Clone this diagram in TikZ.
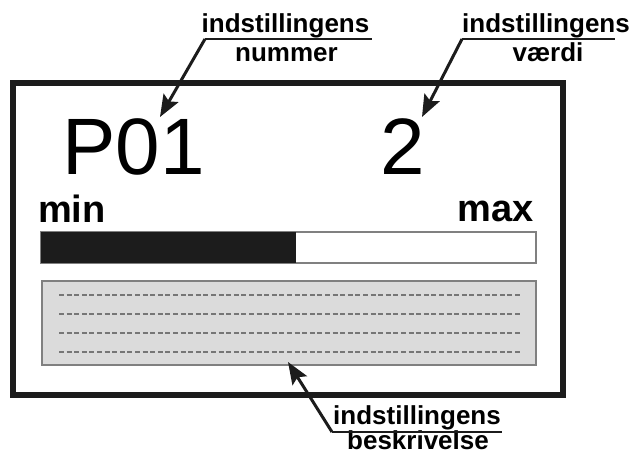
\documentclass[tikz,border=0pt]{standalone}
\usepackage{fontspec}
\setmainfont{Liberation Sans}
\usetikzlibrary{arrows.meta}
\definecolor{panelgray}{RGB}{219,219,219}
\definecolor{edgegray}{RGB}{128,128,128}
\definecolor{dashgray}{RGB}{118,118,118}
\definecolor{barink}{RGB}{28,28,28}

\begin{document}
\begin{tikzpicture}[x=1pt, y=-1pt,
    lbl/.style={font=\fontsize{26}{30}\selectfont\bfseries, inner sep=0pt, anchor=base},
    big/.style={font=\fontsize{80}{90}\selectfont, inner sep=0pt, anchor=base west},
    scaletext/.style={font=\fontsize{38}{44}\selectfont\bfseries, inner sep=0pt},
    frame/.style={draw=barink, line width=6.5pt, minimum width=550pt, minimum height=312pt, inner sep=0pt},
    bar/.style={draw=edgegray, line width=1.2pt, fill=white, minimum width=495pt, minimum height=31pt, inner sep=0pt},
    level/.style={fill=barink, minimum width=255pt, minimum height=31pt, inner sep=0pt, anchor=west},
    panel/.style={draw=edgegray, line width=1.2pt, fill=panelgray, minimum width=494pt, minimum height=84pt, inner sep=0pt},
    rule/.style={dashgray, line width=1.3pt, dash pattern=on 5pt off 2.6pt},
    uline/.style={barink, line width=2.7pt},
    pointer/.style={barink, line width=3pt, -{Stealth[length=22pt, width=17pt, inset=4pt]}}]
            \useasboundingbox (0,0) rectangle (633,454);
            % display
            \node[frame] at (288,239) (display) {};
            \node[big] at (62,175) (num) {P01};
            \node[big] at (380,175) (val) {2};
            \node[scaletext, anchor=base west] at (38,223) (min) {min};
            \node[scaletext, anchor=base east] at (534,222) (max) {max};
            \node[bar] at (288.5,247.5) (bar) {};
            \node[level] at (bar.west) (lvl) {};
            \node[panel] at (289,323) (desc) {};
            \foreach \y in {295,314,333,352}
                \draw[rule] (59,\y) -- (520,\y);
            % labels
            \node[lbl] at (285.5,33) (numtop) {indstillingens};
            \node[lbl] at (286.5,62) (numbot) {nummer};
            \node[lbl] at (546,33) (valtop) {indstillingens};
            \node[lbl] at (548,62) (valbot) {værdi};
            \node[lbl] at (417,425) (desctop) {indstillingens};
            \node[lbl] at (418,450) (descbot) {beskrivelse};
            \coordinate (numtail) at (205,39);
            \coordinate (numend) at (372,39);
            \coordinate (numtip) at (160,117);
            \coordinate (valtail) at (462,39);
            \coordinate (valend) at (615,39);
            \coordinate (valtip) at (422,117);
            \coordinate (desctail) at (332,432);
            \coordinate (descend) at (502,432);
            \coordinate (desctip) at (288,362);
            \draw[uline] (numtail) -- (numend);
            \draw[uline] (valtail) -- (valend);
            \draw[uline] (desctail) -- (descend);
            \draw[pointer] (numtail) -- (numtip);
            \draw[pointer] (valtail) -- (valtip);
            \draw[pointer] (desctail) -- (desctip);
        \end{tikzpicture}
\end{document}
